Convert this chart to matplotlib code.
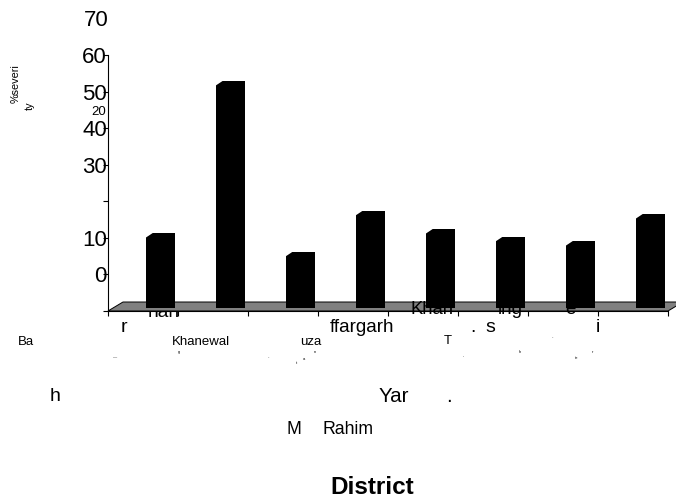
import numpy as np
import matplotlib
matplotlib.use('Agg')
import matplotlib.pyplot as plt
from matplotlib.patches import Polygon

################################
#            Data              #
################################
# bar heights (% severity)
severity = [21.3, 62.9, 16.2, 27.4, 22.4, 20.3, 19.1, 26.5]
bar_pos = np.arange(len(severity)) + 0.75

# y tick labels sit one tick too high in the original
ytick_vals = [0, 10, 20, 30, 40, 50, 60, 70]
ytick_labels = ['', '0', '10', '', '30', '40', '50', '60']

# broken district labels: text, x px, y px, size
under_floor = [('nah', 164, 312, 13.8)]
over_floor = [('Khan', 432, 309, 13.3), ('ing', 510, 310, 13.5), ('e', 570, 310, 13.5)]
big_labels = [('r', 124, 327, 14), ('ffargarh', 362, 328, 13.6),
              ('.', 473, 328, 14), ('s', 490, 328, 14), ('i', 598, 327, 14)]
small_labels = [('Ba', 26, 342, 9.5), ('Khanewal', 201, 342, 9.5), ('uza', 311, 342, 9.5),
                ('T', 448, 341, 9.5)]
specks = [('—', 115, 357), ('g', 179, 352), ('-', 268, 357), ('t', 296, 363),
          ('a', 304, 359), ('n', 315, 352), ("'", 463, 357), ('h', 520, 352),
          ('-', 552, 337), ('te', 577, 358), ('r', 592, 352)]
lower_labels = [('h', 55, 396, 14), ('Yar', 394, 396, 14.8), ('.', 449, 396, 14.8),
                ('M', 294, 429, 12.7), ('Rahim', 348, 429, 12.7)]

W, H = 676, 498

################################
#            Plot              #
################################
plt.rcParams['font.family'] = ['Liberation Sans', 'DejaVu Sans']
fig = plt.figure(figsize=(W / 100, H / 100), dpi=100)
ax = fig.add_axes([108 / W, (H - 311) / H, 560 / W, 256 / H])
ax.set_xlim(0, 8)
ax.set_ylim(0, 70)

for side in ['top', 'right']:
    ax.spines[side].set_visible(False)
for side in ['left', 'bottom']:
    ax.spines[side].set_linewidth(0.8)
    ax.spines[side].set_zorder(3)

ax.set_yticks(ytick_vals)
ax.set_yticklabels(ytick_labels)
ax.set_xticks(np.arange(0, 9))
ax.set_xticklabels([])
ax.tick_params(axis='y', length=3.6, width=0.8, labelsize=16, pad=-2.8)
ax.tick_params(axis='x', length=3.6, width=0.8)

# floor of the 3D chart
floor = Polygon([(0, 0), (8, 0), (8.214, 2.46), (0.214, 2.46)], closed=True,
                facecolor='#808080', edgecolor='black', lw=0.7, zorder=1, clip_on=False)
ax.add_patch(floor)

heights = np.array(severity) - 0.8
ax.bar(bar_pos, heights, width=0.41, bottom=0.8, color='black', zorder=2)

# bevel the top left corner of every bar
dx, dy = 0.1, 1.3
for xc, v in zip(bar_pos, severity):
    x0 = xc - 0.205
    ax.add_patch(Polygon([(x0 - 0.01, v + 0.1), (x0 + dx, v + 0.1), (x0 - 0.01, v - dy)],
                         closed=True, facecolor='white', edgecolor='none', zorder=2.5))

# label fragments, placed in pixel coordinates
def put(s, x, y, size, z=0.5, **kw):
    ax.text(x / W, 1 - y / H, s, transform=fig.transFigure, fontsize=size,
            ha='center', va='center', clip_on=False, zorder=z, **kw)

put('70', 96, 20, 16)
put('20', 99, 112, 9.5)
for s, x, y, size in under_floor + big_labels + small_labels + lower_labels:
    put(s, x, y, size)
for s, x, y, size in over_floor:
    put(s, x, y, size, z=4)
for s, x, y in specks:
    put(s, x, y, 3)

narrow = ['Liberation Sans Narrow', 'Liberation Sans']
put('%severi', 16, 84, 7.8, rotation=90, family=narrow)
put('ty', 30, 106, 7.8, rotation=90, family=narrow)
put('District', 372, 487, 17.5, fontweight='bold')

fig.savefig('out.png', dpi=100)
